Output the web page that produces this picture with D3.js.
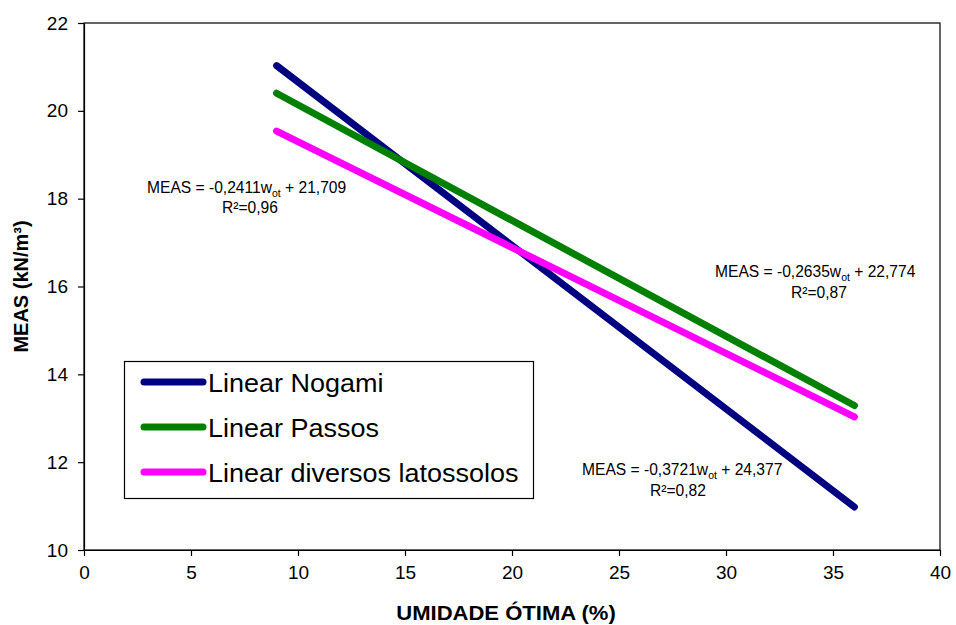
<!DOCTYPE html>
<html>
<head>
<meta charset="utf-8">
<script src="https://cdn.jsdelivr.net/npm/d3@7"></script>
<style>
  html, body { margin: 0; padding: 0; background: #fff; }
  svg { display: block; font-family: Arial, "Liberation Sans", sans-serif; }
</style>
</head>
<body>
<svg id="chart" width="956" height="625"></svg>
<script>
// Linear fits of MEAS against optimum moisture content
const seriesNames = ["Linear Nogami", "Linear Passos", "Linear diversos latossolos"];
const seriesColors = ["#000080", "#008000", "#FF00FF"];
const xStart = [9, 9, 9];
const xEnd = [36, 36, 36];
const yStart = [21.03, 20.40, 19.54];
const yEnd = [10.98, 13.29, 13.03];

// Fit equations written next to the lines
const eqSlope = ["-0,2411", "-0,2635", "-0,3721"];
const eqIntercept = ["21,709", "22,774", "24,377"];
const eqR2 = ["0,96", "0,87", "0,82"];

const xTicks = [0, 5, 10, 15, 20, 25, 30, 35, 40];
const yTicks = [10, 12, 14, 16, 18, 20, 22];

const svg = d3.select("#chart");
const x = d3.scaleLinear().domain([0, 40]).range([84, 940]);
const y = d3.scaleLinear().domain([10, 22]).range([550, 23]);

// plot frame
svg.append("rect")
  .attr("x", x(0)).attr("y", y(22))
  .attr("width", x(40) - x(0)).attr("height", y(10) - y(22))
  .attr("fill", "none").attr("stroke", "#000").attr("stroke-width", 1.2);

const xAxis = svg.append("g")
  .attr("transform", `translate(0,${y(10)})`)
  .call(d3.axisBottom(x).tickValues(xTicks).tickSize(6).tickSizeOuter(0).tickPadding(10));
const yAxis = svg.append("g")
  .attr("transform", `translate(${x(0)},0)`)
  .call(d3.axisLeft(y).tickValues(yTicks).tickSize(6).tickSizeOuter(0).tickPadding(10));

[xAxis, yAxis].forEach(g => {
  g.select(".domain").attr("stroke", "#000").attr("stroke-width", 1.2);
  g.selectAll(".tick line").attr("stroke", "#000").attr("stroke-width", 1.2);
  g.selectAll(".tick text")
    .attr("fill", "#000")
    .style("font-size", "19px")
    .style("font-family", "Arial, 'Liberation Sans', sans-serif");
});

// axis titles
svg.append("text")
  .attr("transform", `translate(506,620) scale(1.05,1)`)
  .attr("text-anchor", "middle")
  .style("font-size", "21px").style("font-weight", "bold")
  .text("UMIDADE ÓTIMA (%)");

svg.append("text")
  .attr("transform", `translate(28,${(y(10) + y(22)) / 2}) rotate(-90)`)
  .attr("text-anchor", "middle")
  .style("font-size", "20px").style("font-weight", "bold")
  .text("MEAS (kN/m³)");

// fitted lines
const lines = seriesNames.map((name, i) => ({
  name, color: seriesColors[i],
  pts: [[xStart[i], yStart[i]], [xEnd[i], yEnd[i]]]
}));
const lineGen = d3.line().x(d => x(d[0])).y(d => y(d[1]));
svg.append("g").selectAll("path")
  .data(lines)
  .join("path")
  .attr("d", d => lineGen(d.pts))
  .attr("fill", "none")
  .attr("stroke", d => d.color)
  .attr("stroke-width", 7)
  .attr("stroke-linecap", "round");

// equation labels
const eqPos = [
  { x1: 147, y1: 193, x2: 222, y2: 213 },
  { x1: 715, y1: 277, x2: 791, y2: 298 },
  { x1: 582, y1: 475, x2: 650, y2: 496 }
];
const eqG = svg.append("g").style("font-size", "15.6px").attr("fill", "#000");
eqPos.forEach((p, i) => {
  const t = eqG.append("text").attr("x", p.x1).attr("y", p.y1);
  t.append("tspan").text(`MEAS = ${eqSlope[i]}w`);
  t.append("tspan").attr("dy", 4).style("font-size", "10.5px").text("ot");
  t.append("tspan").attr("dy", -4).text(` + ${eqIntercept[i]}`);
  eqG.append("text").attr("x", p.x2).attr("y", p.y2).text(`R²=${eqR2[i]}`);
});

// legend
const lg = svg.append("g");
lg.append("rect")
  .attr("x", 124.5).attr("y", 361.5).attr("width", 409).attr("height", 137)
  .attr("fill", "#fff").attr("stroke", "#000").attr("stroke-width", 1.2);
lines.forEach((d, i) => {
  const yy = 382 + i * 45;
  lg.append("line")
    .attr("x1", 144).attr("x2", 203).attr("y1", yy).attr("y2", yy)
    .attr("stroke", d.color).attr("stroke-width", 7).attr("stroke-linecap", "round");
  lg.append("text")
    .attr("transform", `translate(208,${yy + 10}) scale(1.08,1)`)
    .style("font-size", "25px").attr("fill", "#000")
    .text(d.name);
});
</script>
</body>
</html>
